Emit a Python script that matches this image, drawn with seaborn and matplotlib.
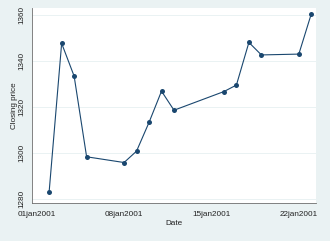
import matplotlib
matplotlib.use("Agg")
import matplotlib.pyplot as plt
import seaborn as sns
import pandas as pd
import numpy as np

dates = ["2001-01-02", "2001-01-03", "2001-01-04", "2001-01-05", "2001-01-08",
         "2001-01-09", "2001-01-10", "2001-01-11", "2001-01-12", "2001-01-16",
         "2001-01-17", "2001-01-18", "2001-01-19", "2001-01-22", "2001-01-23"]
close = [1283.27, 1347.56, 1333.34, 1298.35, 1295.86, 1300.80, 1313.27, 1326.82,
         1318.55, 1326.65, 1329.47, 1347.97, 1342.54, 1342.90, 1360.40]
xtick_dates = ["2001-01-01", "2001-01-08", "2001-01-15", "2001-01-22"]
xtick_labels = ["01jan2001", "08jan2001", "15jan2001", "22jan2001"]
ytick_values = [1280, 1300, 1320, 1340, 1360]

df = pd.DataFrame({"Date": pd.to_datetime(dates), "Closing price": close})

sns.set_style("white")
plt.rcParams['font.family'] = ['Liberation Sans', 'DejaVu Sans']

bg = "#EAF2F3"
navy = "#1A476F"
fs = 5.9

fig = plt.figure(figsize=(3.30, 2.41), dpi=100, facecolor=bg)
ax = fig.add_axes([32/330, 1-203/241, (316-32)/330, (203-8)/241])
ax.set_facecolor("white")

sns.lineplot(data=df, x="Date", y="Closing price", ax=ax, color=navy,
             linewidth=0.8, marker="o", markersize=3.6, markeredgewidth=0,
             zorder=3)

x0 = pd.Timestamp("2001-01-01")
ax.set_xlim(x0 - pd.Timedelta(hours=9), x0 + pd.Timedelta(hours=int(22.4*24)))
ax.set_ylim(1278.3, 1362.9)

ax.set_xticks(pd.to_datetime(xtick_dates))
ax.set_xticklabels(xtick_labels)
ax.set_yticks(ytick_values)
ax.set_yticklabels([str(v) for v in ytick_values], rotation=90, va="center")

ax.grid(axis="y", color=bg, linewidth=0.7, zorder=0)
ax.grid(axis="x", visible=False)

for s in ["top", "right"]:
    ax.spines[s].set_visible(False)
for s in ["left", "bottom"]:
    ax.spines[s].set_color("#6E6E6E")
    ax.spines[s].set_linewidth(0.6)

ax.tick_params(axis="both", which="major", length=3, width=0.6, color="#6E6E6E",
               labelsize=fs, labelcolor="#222222", pad=1.5, direction="out")
ax.tick_params(axis="x", pad=2.5)

ax.set_xlabel("Date", fontsize=fs, color="#222222", labelpad=1.5)
ax.set_ylabel("Closing price", fontsize=fs, color="#222222", labelpad=0.5)

fig.savefig("out.png", dpi=100, facecolor=bg)
